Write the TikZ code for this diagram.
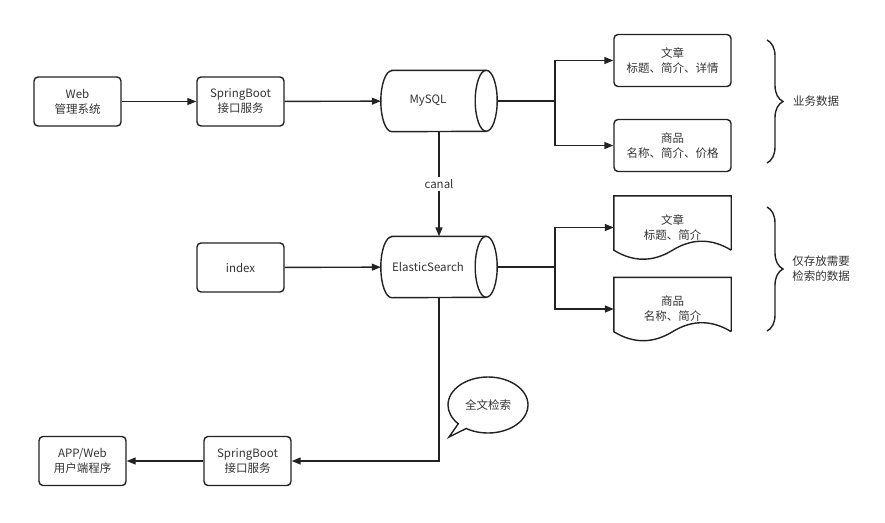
\documentclass[tikz,border=0pt]{standalone}
\usepackage{fontspec}
\setmainfont{Noto Sans CJK SC}
\usepackage{tikz}
\usepackage{xcolor}
\usetikzlibrary{positioning,shapes.geometric,shapes.callouts,arrows.meta,calc,decorations.pathreplacing}

\definecolor{inkline}{HTML}{222222}
\definecolor{inktext}{HTML}{333333}

\tikzset{
  box/.style={draw=inkline,line width=1.4pt,rounded corners=4pt,minimum width=87pt,
    minimum height=49pt,align=center,text=inktext,inner sep=0pt},
  wide/.style={box,minimum width=117pt,minimum height=52pt},
  db/.style={minimum width=116pt,minimum height=61pt,inner sep=0pt,text=inktext},
  doc/.style={minimum width=117pt,minimum height=63pt,align=center,text=inktext,inner sep=0pt},
  wire/.style={draw=inkline,line width=1.4pt},
  link/.style={wire,-{Triangle[length=9pt,width=7pt]}},
  curly/.style={wire,decorate,decoration={brace,amplitude=16pt}},
  tag/.style={align=left,text=inktext,inner sep=0pt},
}

% document outline with a wavy bottom
\newcommand{\docline}[1]{%
  \draw[wire] ([yshift=9pt]#1.south east) -- (#1.north east) -- (#1.north west)
    -- ([yshift=9pt]#1.south west)
    .. controls +(19.5pt,-12pt) and +(-19.5pt,-12pt) .. ([yshift=9pt]#1.south)
    .. controls +(19.5pt,12pt) and +(-19.5pt,12pt) .. ([yshift=9pt]#1.south east);}

% lying cylinder round a db node
\newcommand{\dbline}[1]{%
  \draw[wire] ([xshift=11pt]#1.north west) -- ([xshift=-11pt]#1.north east)
    arc (90:-90:11pt and 30.5pt) -- ([xshift=11pt]#1.south west)
    arc (270:90:11pt and 30.5pt) -- cycle;
  \draw[wire] ([xshift=-11pt]#1.north east) arc (90:270:11pt and 30.5pt);}

\begin{document}
\begin{tikzpicture}[x=1pt,y=-1pt,font=\fontsize{11.5}{15}\selectfont]
  \useasboundingbox (0,0) rectangle (885,522);

  % write side
  \node[box] (web) at (77.5,101.5) {Web\\管理系统};
  \node[box] (bootTop) at (240.5,101.5) {SpringBoot\\接口服务};
  \node[db] (mysql) at (439,101) {\hspace*{-22pt}MySQL};
  \dbline{mysql}
  \draw[link] (web) -- (bootTop);
  \draw[link] (bootTop) -- (mysql);

  % search side
  \node[box] (index) at (240.5,267.5) {index};
  \node[db] (es) at (439,267) {\hspace*{-22pt}ElasticSearch};
  \dbline{es}
  \draw[link] (index) -- (es);
  \draw[link] (mysql.south) -- node[fill=white,inner sep=2pt,text=inktext] (canal) {canal} (es.north);

  % stored data
  \node[wide] (artA) at (672.5,60.5) {文章\\标题、简介、详情};
  \node[wide] (goodsA) at (672.5,145.5) {商品\\名称、简介、价格};
  \node[doc] (artB) at (672.5,227.5) {文章\\标题、简介};
  \node[doc] (goodsB) at (672.5,309) {商品\\名称、简介};
  \docline{artB}
  \docline{goodsB}

  \coordinate (jsql) at (555,101);
  \coordinate (jes) at (555,267);
  \draw[wire] (mysql.east) -- (jsql);
  \draw[link] (jsql) |- (artA.west);
  \draw[link] (jsql) |- (goodsA.west);
  \draw[wire] (es.east) -- (jes);
  \draw[link] (jes) |- (artB.west);
  \draw[link] (jes) |- (goodsB.west);

  % braces
  \draw[curly] (767,40) -- (767,163);
  \draw[curly] (767,207) -- (767,331);
  \node[tag] (bizTag) at (816,101) {业务数据};
  \node[tag] (searchTag) at (821,269) {仅存放需要\\检索的数据};

  % read side
  \node[box] (bootBot) at (247.5,461) {SpringBoot\\接口服务};
  \node[box] (app) at (82.5,461) {APP/Web\\用户端程序};
  \draw[link] (es.south) |- (bootBot.east);
  \draw[link] (bootBot) -- (app);

  \coordinate (tip) at (449,437);
  \node[ellipse callout,draw=inkline,line width=1.4pt,minimum width=80pt,minimum height=56pt,
    callout absolute pointer={(tip)},text=inktext,inner sep=0pt] (bubble) at (488,405) {全文检索};
\end{tikzpicture}
\end{document}
